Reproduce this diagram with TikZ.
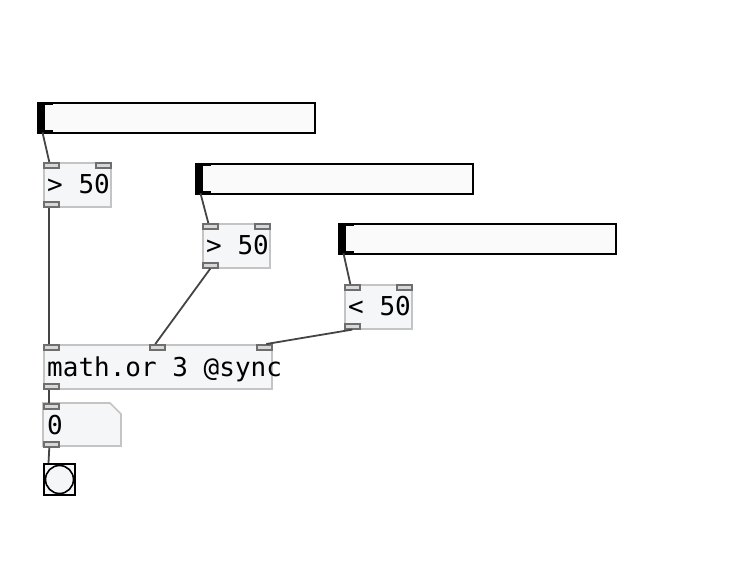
\documentclass[tikz,border=0pt]{standalone}
\usepackage{fontspec}
\newfontfamily\pdmono{DejaVu Sans Mono}
\definecolor{boxfill}{HTML}{F5F6F8}
\definecolor{boxline}{HTML}{C4C4C4}
\definecolor{portfill}{HTML}{D8D8D8}
\definecolor{portline}{HTML}{6E6E6E}
\definecolor{wirecol}{HTML}{444444}
\definecolor{sliderfill}{HTML}{FAFAFA}
\tikzset{
  obj/.style={draw=boxline, fill=boxfill, line width=1.6pt, inner sep=0pt, anchor=north west},
  port/.style={draw=portline, fill=portfill, line width=1.6pt, inner sep=0pt, minimum width=15pt, minimum height=5pt, anchor=north west},
  slider/.style={draw=black, fill=sliderfill, line width=2.2pt, inner sep=0pt, minimum width=277pt, minimum height=30pt, anchor=north west},
  handle/.style={fill=black, inner sep=0pt, minimum width=8pt, minimum height=30pt, anchor=north west},
  txt/.style={font=\pdmono\fontsize{26}{28}\selectfont, inner sep=0pt, anchor=base west},
  wire/.style={draw=wirecol, line width=1.8pt},
}
\begin{document}
\begin{tikzpicture}[x=1pt,y=-1pt]
\useasboundingbox (0,0) rectangle (738,563);

% sliders
\foreach \n/\x/\y in {s1/37/102, s2/195/163, s3/338/223}{
  \node[slider] (\n) at (\x,\y) {};
  \node[handle] (\n h) at (\x,\y) {};
  \fill[black] (\x+8,\y) rectangle (\x+16,\y+2.5);
  \fill[black] (\x+8,\y+27.5) rectangle (\x+16,\y+30);
}

% comparison objects
\node[obj, minimum width=67pt, minimum height=44pt] (b1) at (43,162) {};
\node[txt] (b1t) at (47,193) {> 50};
\node[obj, minimum width=67pt, minimum height=44pt] (b2) at (202,223) {};
\node[txt] (b2t) at (206,254) {> 50};
\node[obj, minimum width=67pt, minimum height=44pt] (b3) at (344,284) {};
\node[txt] (b3t) at (348,315) {< 50};

% math.or
\node[obj, minimum width=228pt, minimum height=44pt] (m) at (43,344) {};
\node[txt] (mt) at (47,376) {math.or 3 @sync};

% message box
\path[obj, draw=boxline, fill=boxfill, line width=1.6pt] (43,403) -- (110,403) -- (121,414) -- (121,446) -- (43,446) -- cycle;
\coordinate (msg) at (43,403);
\node[txt] (mgt) at (47,434) {0};

% bang
\node[draw=black, fill=boxfill, line width=2pt, inner sep=0pt, minimum width=31pt, minimum height=31pt, anchor=north west] (bang) at (43,463) {};
\draw[black, line width=1.6pt] (bang.center) circle (14pt);

% ports
\node[port] (b1i0) at (43,162) {};
\node[port] (b1i1) at (95,162) {};
\node[port] (b1o) at (43,201) {};
\node[port] (b2i0) at (202,223) {};
\node[port] (b2i1) at (254,223) {};
\node[port] (b2o) at (202,262) {};
\node[port] (b3i0) at (344,284) {};
\node[port] (b3i1) at (396,284) {};
\node[port] (b3o) at (344,323) {};
\node[port] (mi0) at (43,344) {};
\node[port] (mi1) at (149,344) {};
\node[port] (mi2) at (256,344) {};
\node[port] (mo) at (43,383) {};
\node[port] (mgi) at (43,403) {};
\node[port] (mgo) at (43,441) {};

% wires
\draw[wire] ([xshift=5.5pt]s1h.south west) -- ([xshift=-2pt]b1i0.north);
\draw[wire] ([xshift=5.5pt]s2h.south west) -- ([xshift=-2pt]b2i0.north);
\draw[wire] ([xshift=5.5pt]s3h.south west) -- ([xshift=-2pt]b3i0.north);
\draw[wire] ([xshift=-2pt]b1o.south) -- ([xshift=-2pt]mi0.north);
\draw[wire] (b2o.south) -- ([xshift=-2pt]mi1.north);
\draw[wire] (b3o.south) -- ([xshift=2pt]mi2.north);
\draw[wire] ([xshift=-2pt]mo.south) -- ([xshift=-2pt]mgi.north);
\draw[wire] ([xshift=-2pt]mgo.south) -- ([xshift=5.5pt]bang.north west);
\end{tikzpicture}
\end{document}
